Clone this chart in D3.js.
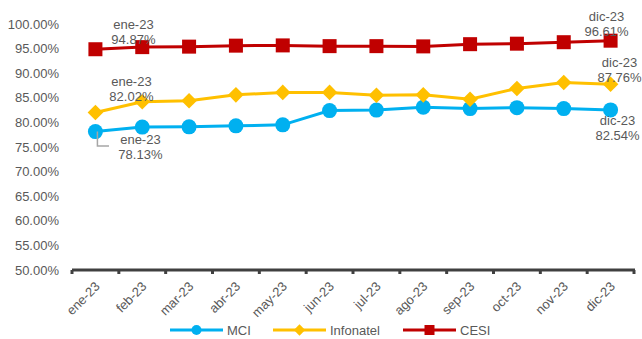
<html>
<head>
<style>
body { margin: 0; background: #fff; }
text { font-family: 'Liberation Sans', Arial, sans-serif; fill: #595959; }
</style>
</head>
<body>
<svg></svg>
<script src="https://d3js.org/d3.v7.min.js"></script>
<script>

const months = ['ene-23', 'feb-23', 'mar-23', 'abr-23', 'may-23', 'jun-23',
    'jul-23', 'ago-23', 'sep-23', 'oct-23', 'nov-23', 'dic-23'];
const mci = [78.13, 79.05, 79.1, 79.3, 79.5, 82.4, 82.5, 83.1, 82.8, 83.0, 82.8, 82.54];
const infonatel = [82.02, 84.2, 84.4, 85.6, 86.1, 86.1, 85.5, 85.6, 84.7, 86.9, 88.1, 87.76];
const cesi = [94.87, 95.3, 95.4, 95.6, 95.65, 95.5, 95.5, 95.45, 95.9, 96.0, 96.3, 96.61];
const yTicks = [50, 55, 60, 65, 70, 75, 80, 85, 90, 95, 100];

const width = 642;
const height = 339;

const svg = d3.select('svg')
    .attr('width', width)
    .attr('height', height);

const x = d3.scaleBand()
    .domain(months)
    .range([72, 634]);

const y = d3.scaleLinear()
    .domain([50, 100])
    .range([270, 24]);

const cx = m => x(m) + x.bandwidth() / 2;

// y axis labels, no line
svg.append('g').selectAll('text').data(yTicks)
    .enter().append('text')
    .attr('x', 59)
    .attr('y', d => y(d))
    .attr('dy', '0.35em')
    .attr('text-anchor', 'end')
    .style('font-size', '13px')
    .text(d => d.toFixed(2) + '%');

// x axis
const xAxis = svg.append('g');
xAxis.append('line')
    .attr('x1', 72).attr('x2', 635)
    .attr('y1', 270).attr('y2', 270)
    .attr('stroke', '#404040')
    .attr('stroke-width', 3);
xAxis.selectAll('.tick').data(d3.range(months.length + 1))
    .enter().append('line')
    .attr('x1', i => 72 + i * x.step())
    .attr('x2', i => 72 + i * x.step())
    .attr('y1', 270).attr('y2', 274)
    .attr('stroke', '#404040')
    .attr('stroke-width', 3);
xAxis.selectAll('.lbl').data(months)
    .enter().append('text')
    .attr('text-anchor', 'end')
    .attr('transform', d => `translate(${cx(d) + 2},${284}) rotate(-45)`)
    .attr('dy', '0.35em')
    .style('font-size', '13px')
    .text(d => d);

const series = [
    {name: 'MCI', values: mci, color: '#00B0F0', shape: 'circle'},
    {name: 'Infonatel', values: infonatel, color: '#FFC000', shape: 'diamond'},
    {name: 'CESI', values: cesi, color: '#C00000', shape: 'square'},
];

function marker(sel, shape, color) {
    if (shape === 'circle') {
        sel.append('circle').attr('r', 7.5).attr('fill', color);
    } else if (shape === 'diamond') {
        sel.append('rect').attr('x', -5.5).attr('y', -5.5)
            .attr('width', 11).attr('height', 11)
            .attr('transform', 'rotate(45)').attr('fill', color);
    } else {
        sel.append('rect').attr('x', -7).attr('y', -7)
            .attr('width', 14).attr('height', 14).attr('fill', color);
    }
}

const line = d3.line()
    .x((d, i) => cx(months[i]))
    .y(d => y(d));

series.forEach(s => {
    svg.append('path')
        .datum(s.values)
        .attr('fill', 'none')
        .attr('stroke', s.color)
        .attr('stroke-width', 3)
        .attr('d', line);
    svg.append('g').selectAll('g').data(s.values)
        .enter().append('g')
        .attr('transform', (d, i) => `translate(${cx(months[i])},${y(d)})`)
        .each(function() { marker(d3.select(this), s.shape, s.color); });
});

// data labels
const labels = [
    {m: 0, v: cesi[0], dx: 38, y1: 24},
    {m: 11, v: cesi[11], dx: -4, y1: 16},
    {m: 0, v: infonatel[0], dx: 36, y1: 81},
    {m: 11, v: infonatel[11], dx: 9, y1: 62},
    {m: 0, v: mci[0], dx: 45, y1: 139},
    {m: 11, v: mci[11], dx: 7, y1: 120},
];
const lab = svg.append('g').selectAll('text').data(labels)
    .enter().append('text')
    .attr('text-anchor', 'middle')
    .style('font-size', '13px');
lab.append('tspan')
    .attr('x', d => cx(months[d.m]) + d.dx)
    .attr('y', d => d.y1)
    .attr('dy', '0.35em')
    .text(d => months[d.m]);
lab.append('tspan')
    .attr('x', d => cx(months[d.m]) + d.dx)
    .attr('y', d => d.y1 + 15)
    .attr('dy', '0.35em')
    .text(d => d.v.toFixed(2) + '%');

// leader line for MCI first label
svg.append('path')
    .attr('d', `M${cx(months[0]) + 2},${y(mci[0])} V146 H109`)
    .attr('fill', 'none')
    .attr('stroke', '#A6A6A6')
    .attr('stroke-width', 1.5);

// legend
const legendX = [170, 273, 403];
const legend = svg.append('g').selectAll('g').data(series)
    .enter().append('g')
    .attr('transform', (d, i) => `translate(${legendX[i]},330)`);
legend.append('line')
    .attr('x1', 0).attr('x2', 53)
    .attr('stroke', d => d.color)
    .attr('stroke-width', 3);
legend.append('g')
    .attr('transform', 'translate(26.5,0)')
    .each(function(d) {
        const g = d3.select(this);
        if (d.shape === 'circle') g.append('circle').attr('r', 5).attr('fill', d.color);
        else if (d.shape === 'diamond') g.append('rect').attr('x', -4).attr('y', -4).attr('width', 8).attr('height', 8).attr('transform', 'rotate(45)').attr('fill', d.color);
        else g.append('rect').attr('x', -5).attr('y', -5).attr('width', 10).attr('height', 10).attr('fill', d.color);
    });
legend.append('text')
    .attr('x', 57)
    .attr('dy', '0.35em')
    .style('font-size', '13px')
    .text(d => d.name);

</script>
</body>
</html>
